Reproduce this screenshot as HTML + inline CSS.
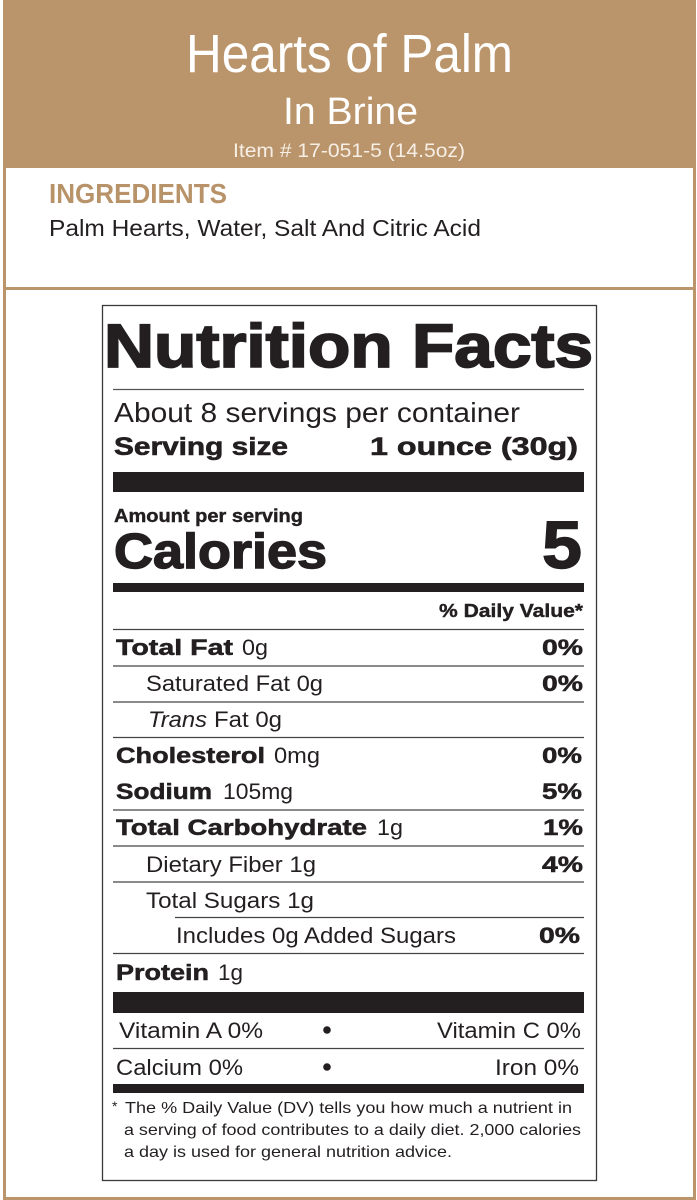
<!DOCTYPE html>
<html>
<head>
<meta charset="utf-8">
<style>
  html,body{margin:0;padding:0;background:#fff;}
  body{width:697px;height:1200px;overflow:hidden;}
  svg{display:block;}
  text{font-family:"Liberation Sans", Arial, sans-serif;}
</style>
</head>
<body>
<svg width="697" height="1200" viewBox="0 0 697 1200" xmlns="http://www.w3.org/2000/svg">
  <rect x="0" y="0" width="697" height="1200" fill="#ffffff"/>
  <!-- header -->
  <rect x="3" y="0" width="693" height="168" fill="#BA946A"/>
  <!-- frame -->
  <rect x="3" y="168" width="3" height="1032" fill="#BA946A"/>
  <rect x="693" y="168" width="3" height="1032" fill="#BA946A"/>
  <rect x="3" y="1197" width="693" height="3" fill="#BA946A"/>
  <rect x="3" y="287" width="693" height="3" fill="#BA946A"/>

  <text x="186" y="72" font-size="54" fill="#ffffff" textLength="327" lengthAdjust="spacingAndGlyphs">Hearts of Palm</text>
  <text x="283" y="124" font-size="38" fill="#ffffff" textLength="135" lengthAdjust="spacingAndGlyphs">In Brine</text>
  <text x="233" y="157" font-size="19" fill="#f7efe6" textLength="232" lengthAdjust="spacingAndGlyphs">Item # 17-051-5 (14.5oz)</text>

  <text x="49" y="203" font-size="28" font-weight="bold" fill="#B8936A" textLength="178" lengthAdjust="spacingAndGlyphs">INGREDIENTS</text>
  <text x="49" y="236" font-size="23" fill="#231f20" textLength="432" lengthAdjust="spacingAndGlyphs">Palm Hearts, Water, Salt And Citric Acid</text>

  <!-- nutrition box -->
  <rect x="102.5" y="305.5" width="494" height="875" fill="#ffffff" stroke="#3a3a3a" stroke-width="1.3"/>

  <g fill="#231f20">
    <text x="104" y="367" font-size="61" font-weight="bold" stroke="#231f20" stroke-width="1.8" textLength="489" lengthAdjust="spacingAndGlyphs">Nutrition Facts</text>
  </g>
  <line x1="113" y1="389.5" x2="584" y2="389.5" stroke="#555" stroke-width="1.2"/>

  <g fill="#231f20">
    <text x="114" y="422" font-size="28" textLength="406" lengthAdjust="spacingAndGlyphs">About 8 servings per container</text>
    <text x="114" y="455" font-size="25" font-weight="bold" stroke="#231f20" stroke-width="0.6" textLength="174" lengthAdjust="spacingAndGlyphs">Serving size</text>
    <text x="370" y="455" font-size="25" font-weight="bold" stroke="#231f20" stroke-width="0.6" textLength="208" lengthAdjust="spacingAndGlyphs">1 ounce (30g)</text>
  </g>
  <rect x="113" y="472" width="471" height="20" fill="#231f20"/>

  <g fill="#231f20">
    <text x="114" y="522" font-size="18" font-weight="bold" stroke="#231f20" stroke-width="0.4" textLength="189" lengthAdjust="spacingAndGlyphs">Amount per serving</text>
    <text x="114" y="568" font-size="49" font-weight="bold" stroke="#231f20" stroke-width="1.4" textLength="213" lengthAdjust="spacingAndGlyphs">Calories</text>
    <text x="542" y="568" font-size="67" font-weight="bold" stroke="#231f20" stroke-width="1.4" textLength="40" lengthAdjust="spacingAndGlyphs">5</text>
  </g>
  <rect x="113" y="583" width="471" height="9" fill="#231f20"/>

  <g fill="#231f20">
    <text x="439" y="617" font-size="18" font-weight="bold" stroke="#231f20" stroke-width="0.4" textLength="144" lengthAdjust="spacingAndGlyphs">% Daily Value*</text>
  </g>

  <!-- row lines -->
  <g stroke="#444" stroke-width="1.2">
    <line x1="113" y1="629.5" x2="584" y2="629.5"/>
    <line x1="113" y1="666" x2="584" y2="666"/>
    <line x1="113" y1="702" x2="584" y2="702"/>
    <line x1="113" y1="737.5" x2="584" y2="737.5"/>
    <line x1="113" y1="810" x2="584" y2="810"/>
    <line x1="113" y1="846" x2="584" y2="846"/>
    <line x1="113" y1="882" x2="584" y2="882"/>
    <line x1="175" y1="917.5" x2="584" y2="917.5"/>
    <line x1="113" y1="953.5" x2="584" y2="953.5"/>
    <line x1="113" y1="1048.5" x2="584" y2="1048.5"/>
  </g>

  <g fill="#231f20" font-size="22">
    <!-- Total Fat -->
    <text x="116" y="655" font-weight="bold" stroke="#231f20" stroke-width="0.5" textLength="117" lengthAdjust="spacingAndGlyphs">Total Fat</text>
    <text x="242" y="655" textLength="26" lengthAdjust="spacingAndGlyphs">0g</text>
    <text x="542" y="655" font-weight="bold" stroke="#231f20" stroke-width="0.5" textLength="41" lengthAdjust="spacingAndGlyphs">0%</text>
    <!-- Saturated Fat -->
    <text x="146" y="691" textLength="177" lengthAdjust="spacingAndGlyphs">Saturated Fat 0g</text>
    <text x="542" y="691" font-weight="bold" stroke="#231f20" stroke-width="0.5" textLength="41" lengthAdjust="spacingAndGlyphs">0%</text>
    <!-- Trans Fat -->
    <text x="148" y="727" font-style="italic" textLength="59" lengthAdjust="spacingAndGlyphs">Trans</text>
    <text x="214" y="727" textLength="68" lengthAdjust="spacingAndGlyphs">Fat 0g</text>
    <!-- Cholesterol -->
    <text x="116" y="763" font-weight="bold" stroke="#231f20" stroke-width="0.5" textLength="149" lengthAdjust="spacingAndGlyphs">Cholesterol</text>
    <text x="274" y="763" textLength="46" lengthAdjust="spacingAndGlyphs">0mg</text>
    <text x="542" y="763" font-weight="bold" stroke="#231f20" stroke-width="0.5" textLength="40" lengthAdjust="spacingAndGlyphs">0%</text>
    <!-- Sodium -->
    <text x="116" y="799" font-weight="bold" stroke="#231f20" stroke-width="0.5" textLength="96" lengthAdjust="spacingAndGlyphs">Sodium</text>
    <text x="223" y="799" textLength="70" lengthAdjust="spacingAndGlyphs">105mg</text>
    <text x="542" y="799" font-weight="bold" stroke="#231f20" stroke-width="0.5" textLength="40" lengthAdjust="spacingAndGlyphs">5%</text>
    <!-- Total Carbohydrate -->
    <text x="116" y="835" font-weight="bold" stroke="#231f20" stroke-width="0.5" textLength="251" lengthAdjust="spacingAndGlyphs">Total Carbohydrate</text>
    <text x="377" y="835" textLength="26" lengthAdjust="spacingAndGlyphs">1g</text>
    <text x="543" y="835" font-weight="bold" stroke="#231f20" stroke-width="0.5" textLength="40" lengthAdjust="spacingAndGlyphs">1%</text>
    <!-- Dietary Fiber -->
    <text x="146" y="872" textLength="170" lengthAdjust="spacingAndGlyphs">Dietary Fiber 1g</text>
    <text x="542" y="872" font-weight="bold" stroke="#231f20" stroke-width="0.5" textLength="41" lengthAdjust="spacingAndGlyphs">4%</text>
    <!-- Total Sugars -->
    <text x="146" y="908" textLength="168" lengthAdjust="spacingAndGlyphs">Total Sugars 1g</text>
    <!-- Added Sugars -->
    <text x="176" y="943" textLength="280" lengthAdjust="spacingAndGlyphs">Includes 0g Added Sugars</text>
    <text x="539" y="943" font-weight="bold" stroke="#231f20" stroke-width="0.5" textLength="41" lengthAdjust="spacingAndGlyphs">0%</text>
    <!-- Protein -->
    <text x="116" y="980" font-weight="bold" stroke="#231f20" stroke-width="0.5" textLength="93" lengthAdjust="spacingAndGlyphs">Protein</text>
    <text x="218" y="980" textLength="25" lengthAdjust="spacingAndGlyphs">1g</text>
  </g>

  <rect x="113" y="992" width="471" height="21" fill="#231f20"/>

  <g fill="#231f20" font-size="22">
    <text x="119" y="1038" textLength="144" lengthAdjust="spacingAndGlyphs">Vitamin A 0%</text>
    <text x="437" y="1038" textLength="144" lengthAdjust="spacingAndGlyphs">Vitamin C 0%</text>
    <text x="116" y="1075" textLength="127" lengthAdjust="spacingAndGlyphs">Calcium 0%</text>
    <text x="495" y="1075" textLength="84" lengthAdjust="spacingAndGlyphs">Iron 0%</text>
  </g>
  <circle cx="327" cy="1030" r="3.8" fill="#231f20"/>
  <circle cx="327" cy="1067" r="3.8" fill="#231f20"/>

  <rect x="113" y="1084" width="471" height="9" fill="#231f20"/>

  <g fill="#231f20" font-size="16">
    <text x="112" y="1111" font-size="14">*</text>
    <text x="125" y="1113" textLength="447" lengthAdjust="spacingAndGlyphs">The % Daily Value (DV) tells you how much a nutrient in</text>
    <text x="124" y="1135" textLength="457" lengthAdjust="spacingAndGlyphs">a serving of food contributes to a daily diet. 2,000 calories</text>
    <text x="124" y="1157" textLength="328" lengthAdjust="spacingAndGlyphs">a day is used for general nutrition advice.</text>
  </g>
</svg>
</body>
</html>
